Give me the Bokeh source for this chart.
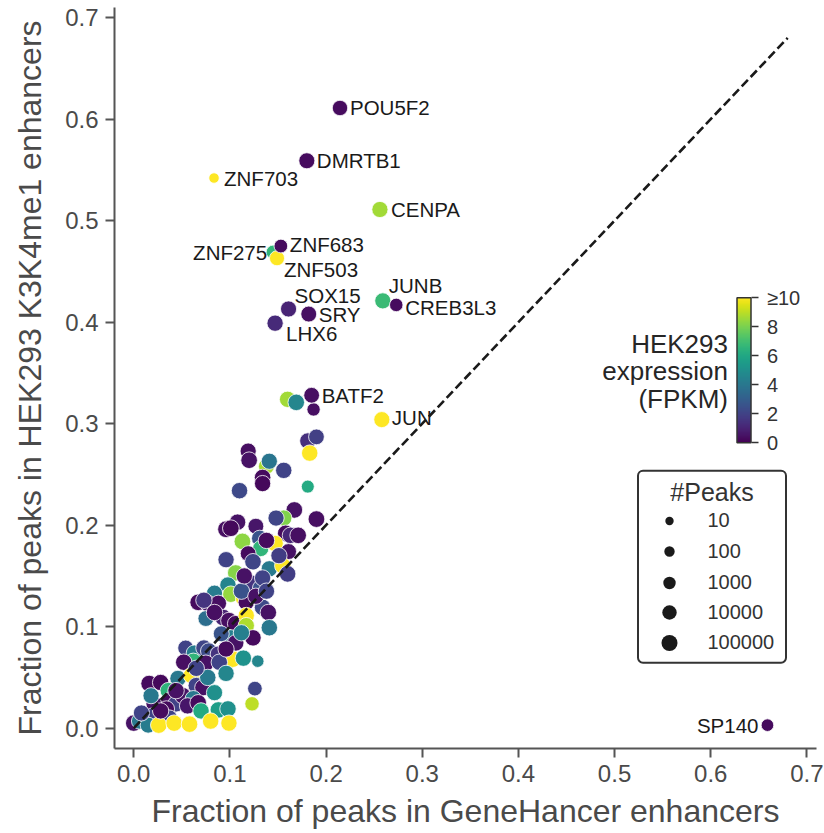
import numpy as np
from bokeh.plotting import figure
from bokeh.models import (LinearColorMapper, ColorBar, FixedTicker, Legend, LegendItem,
                          Label, BoxAnnotation, ColumnDataSource, Range1d, PrintfTickFormatter)
from bokeh.palettes import Viridis256
from bokeh.embed import file_html
from bokeh.resources import INLINE
from bokeh.core.properties import value

FONT = "Liberation Sans"

# ---------------- data ----------------
# unlabelled TFs: fraction in GeneHancer, fraction in K3K4me1, HEK293 FPKM, #peaks
tf_x = [0.160, 0.169, 0.187, 0.181, 0.190, 0.183, 0.119, 0.120, 0.138, 0.141,
        0.156, 0.134, 0.134, 0.110, 0.181, 0.167, 0.190, 0.156, 0.148, 0.096,
        0.108, 0.101, 0.127, 0.158, 0.163, 0.171, 0.113, 0.131, 0.132, 0.147,
        0.161, 0.119, 0.096, 0.124, 0.141, 0.155, 0.106, 0.160, 0.098, 0.084,
        0.122, 0.132, 0.134, 0.101, 0.114, 0.067, 0.077, 0.088, 0.117, 0.134,
        0.140, 0.075, 0.093, 0.099, 0.106, 0.117, 0.117, 0.141, 0.101, 0.091,
        0.106, 0.124, 0.054, 0.063, 0.073, 0.078, 0.088, 0.103, 0.114, 0.129,
        0.062, 0.052, 0.075, 0.089, 0.016, 0.028, 0.046, 0.036, 0.060, 0.065,
        0.072, 0.077, 0.096, 0.084, 0.021, 0.037, 0.044, 0.051, 0.062, 0.056,
        0.067, 0.034, 0.070, 0.088, 0.098, 0.099, 0.000, 0.006, 0.020, 0.037,
        0.015, 0.026, 0.042, 0.058, 0.126, 0.123,
        0.073, 0.112, 0.127, 0.138, 0.084, 0.112, 0.096, 0.065, 0.044, 0.028,
        0.008, 0.080, 0.115, 0.151, 0.138, 0.018]
tf_y = [0.324, 0.321, 0.314, 0.283, 0.287, 0.271, 0.273, 0.264, 0.258, 0.263,
        0.254, 0.247, 0.241, 0.234, 0.238, 0.215, 0.206, 0.207, 0.207, 0.196,
        0.203, 0.197, 0.199, 0.192, 0.190, 0.190, 0.184, 0.187, 0.177, 0.182,
        0.174, 0.172, 0.166, 0.164, 0.157, 0.160, 0.153, 0.152, 0.141, 0.133,
        0.143, 0.138, 0.148, 0.132, 0.128, 0.124, 0.123, 0.123, 0.124, 0.119,
        0.114, 0.108, 0.109, 0.106, 0.103, 0.111, 0.101, 0.099, 0.089, 0.093,
        0.084, 0.089, 0.079, 0.074, 0.079, 0.076, 0.073, 0.068, 0.069, 0.066,
        0.066, 0.065, 0.064, 0.065, 0.044, 0.045, 0.049, 0.037, 0.052, 0.042,
        0.040, 0.050, 0.054, 0.035, 0.024, 0.027, 0.024, 0.032, 0.029, 0.022,
        0.025, 0.019, 0.017, 0.018, 0.019, 0.005, 0.005, 0.007, 0.012, 0.010,
        0.003, 0.003, 0.005, 0.004, 0.039, 0.024,
        0.126, 0.135, 0.130, 0.135, 0.114, 0.094, 0.078, 0.059, 0.037, 0.017,
        0.015, 0.007, 0.150, 0.170, 0.185, 0.032]
tf_fpkm = [8.6, 4.6, 0.4, 1.4, 1.9, 14.2, 0.4, 0.5, 8.7, 3.9,
           2.0, 0.3, 0.2, 2.2, 6.1, 0.5, 0.4, 8.1, 2.1, 0.4,
           0.5, 0.2, 0.6, 0.3, 1.1, 0.4, 8.3, 2.6, 6.6, 11.5,
           0.5, 0.3, 2.0, 2.1, 4.1, 12.0, 8.2, 1.8, 4.5, 4.2,
           1.5, 2.5, 2.0, 8.4, 10.5, 0.3, 0.6, 0.4, 0.3, 2.2,
           0.5, 3.6, 1.0, 0.4, 0.2, 13.0, 8.8, 4.0, 4.3, 2.6,
           0.5, 0.3, 2.0, 4.2, 2.1, 2.3, 1.5, 11.0, 5.1, 4.6,
           6.6, 0.4, 0.5, 2.0, 0.3, 0.2, 4.0, 6.5, 12.5, 2.0,
           0.5, 4.1, 4.6, 5.0, 0.5, 0.3, 2.0, 0.5, 4.0, 0.6,
           0.3, 0.3, 6.1, 5.6, 5.0, 11.0, 0.5, 4.0, 2.0, 2.0,
           4.2, 12.0, 10.5, 11.5, 2.1, 9.0,
           1.5, 2.5, 0.5, 2.0, 0.4, 4.3, 0.3, 2.0, 0.5, 0.3,
           2.0, 11.0, 0.5, 1.8, 0.3, 4.0]
tf_peaks = [84000, 110000, 2500, 76000, 42000, 94000, 66000, 122000, 56000, 72000,
            88000, 104000, 78000, 94000, 1800, 116000, 128000, 82000, 70000, 144000,
            90000, 132000, 48000, 102000, 96000, 114000, 124000, 86000, 74000, 92000,
            52000, 44000, 78000, 106000, 82000, 98000, 88000, 114000, 92000, 70000,
            84000, 94000, 80000, 102000, 54000, 116000, 98000, 88000, 78000, 104000,
            94000, 46000, 122000, 110000, 96000, 84000, 90000, 100000, 88000, 52000,
            106000, 94000, 48000, 76000, 90000, 100000, 82000, 112000, 88000, 900,
            74000, 98000, 108000, 92000, 116000, 94000, 84000, 102000, 78000, 88000,
            106000, 96000, 82000, 72000, 58000, 104000, 92000, 110000, 98000, 86000,
            114000, 76000, 90000, 104000, 94000, 82000, 100000, 66000, 92000, 80000,
            56000, 102000, 94000, 110000, 12000, 9000,
            86000, 92000, 78000, 88000, 96000, 84000, 72000, 90000, 98000, 80000,
            70000, 94000, 82000, 76000, 88000, 68000]

# labelled TFs
lab_names = ["POU5F2", "DMRTB1", "ZNF703", "CENPA", "ZNF275", "ZNF503", "ZNF683",
             "JUNB", "CREB3L3", "SOX15", "SRY", "LHX6", "BATF2", "JUN", "SP140"]
lab_x = [0.2145, 0.180, 0.0835, 0.256, 0.145, 0.149, 0.153,
         0.259, 0.273, 0.161, 0.182, 0.147, 0.185, 0.258, 0.659]
lab_y = [0.611, 0.559, 0.542, 0.511, 0.469, 0.463, 0.475,
         0.421, 0.417, 0.413, 0.408, 0.399, 0.328, 0.304, 0.003]
lab_fpkm = [0.3, 0.3, 12.0, 8.6, 6.6, 11.0, 0.3,
            6.8, 0.3, 1.0, 0.4, 1.2, 0.4, 10.0, 0.3]
lab_peaks = [30000, 60000, 90, 70000, 6000, 20000, 4000,
             64000, 3000, 66000, 52000, 80000, 44000, 62000, 1100]

diag_end = 0.68
legend_peaks = [10, 100, 1000, 10000, 100000]
cbar_ticks = [0, 2, 4, 6, 8, 10]

# ---------------- styling (screen offsets for labels) ----------------
lab_dx = [10, 10, 10, 11, -6, 7, 9, 6, 9, 6, 10, 11, 10, 10, -9]
lab_dy = [0, 0, 0, 0, 0, 11, -2, -15, 3, -13, 0, 10, 0, -2, 0]
lab_align = ["left"] * 4 + ["right"] + ["left"] * 9 + ["right"]


def diam(peaks):
    return 6.5 + 2 * np.log10(np.asarray(peaks, dtype=float))


all_x = tf_x + lab_x
all_y = tf_y + lab_y
all_f = tf_fpkm + lab_fpkm
all_p = tf_peaks + lab_peaks
src = ColumnDataSource(dict(x=all_x, y=all_y, fpkm=all_f, size=diam(all_p)))

mapper = LinearColorMapper(palette=Viridis256, low=0, high=10)

p = figure(width=824, height=833, output_backend="svg", toolbar_location=None,
           x_range=Range1d(-0.02, 0.71), y_range=Range1d(-0.02, 0.71),
           min_border_left=114, min_border_right=8, min_border_top=7, min_border_bottom=85)
p.outline_line_color = None
p.grid.visible = False
p.background_fill_color = "white"
p.border_fill_color = "white"

p.scatter("x", "y", size="size", source=src,
          fill_color={"field": "fpkm", "transform": mapper},
          line_color="white", line_width=0.8)

p.line([0, diag_end], [0, diag_end], line_color="#1a1a1a", line_width=2.6,
       line_dash="9 4")

# point labels
for al in ("left", "right"):
    idx = [i for i, a in enumerate(lab_align) if a == al]
    s = ColumnDataSource(dict(x=[lab_x[i] for i in idx], y=[lab_y[i] for i in idx],
                              t=[lab_names[i] for i in idx],
                              dx=[lab_dx[i] for i in idx], dy=[lab_dy[i] for i in idx]))
    p.text("x", "y", text="t", source=s, x_offset="dx", y_offset="dy",
           text_align=al, text_baseline="middle", text_font=value(FONT),
           text_font_size="20.5px", text_color="#1a1a1a")

# axes
for ax in (p.xaxis[0], p.yaxis[0]):
    ax.ticker = FixedTicker(ticks=[0, 0.1, 0.2, 0.3, 0.4, 0.5, 0.6, 0.7])
    ax.formatter = PrintfTickFormatter(format="%.1f")
    ax.major_label_text_font = FONT
    ax.major_label_text_font_size = "24px"
    ax.major_label_text_color = "#4a4a4a"
    ax.axis_label_text_font = FONT
    ax.axis_label_text_font_size = "32px"
    ax.axis_label_text_font_style = "normal"
    ax.axis_label_text_color = "#4a4a4a"
    ax.axis_line_color = "#555555"
    ax.axis_line_width = 2
    ax.major_tick_line_color = "#555555"
    ax.major_tick_line_width = 2
    ax.major_tick_out = 9
    ax.major_tick_in = 0
    ax.minor_tick_line_color = None
    ax.major_label_standoff = 7
p.xaxis.axis_label_standoff = 8
p.yaxis.axis_label_standoff = 14
p.xaxis.axis_label = "Fraction of peaks in GeneHancer enhancers"
p.yaxis.axis_label = "Fraction of peaks in HEK293 K3K4me1 enhancers"

# colour bar
cbar = ColorBar(color_mapper=mapper, ticker=FixedTicker(ticks=cbar_ticks),
                major_label_overrides={10: "≥10"},
                width=14, height=145, padding=0, location=(622.5, 305.8),
                background_fill_alpha=0, border_line_color=None,
                bar_line_color="#333333", bar_line_width=1.5,
                major_tick_line_color="#333333", major_tick_line_width=1.5,
                major_tick_out=7, major_tick_in=0, minor_tick_line_color=None,
                label_standoff=9, major_label_text_font=FONT,
                major_label_text_font_size="20px", major_label_text_color="#333333")
p.add_layout(cbar, "center")

for txt, yy in zip(["HEK293", "expression", "(FPKM)"], [404.8, 377.8, 349.8]):
    p.add_layout(Label(x=613.5, y=yy, x_units="screen", y_units="screen", text=txt,
                       text_align="right", text_baseline="middle", text_font=FONT,
                       text_font_size="26px", text_color="#262626"))

# size legend
box = BoxAnnotation(left=523.5, right=671.5, bottom=85.8, top=277.8,
                    left_units="screen", right_units="screen",
                    bottom_units="screen", top_units="screen",
                    fill_color="white", fill_alpha=1, line_color="#333333",
                    line_alpha=1, line_width=2, border_radius=5, level="overlay")
p.add_layout(box)
p.add_layout(Label(x=597.5, y=256.8, x_units="screen", y_units="screen", text="#Peaks",
                   text_align="center", text_baseline="middle", text_font=FONT,
                   text_font_size="25px", text_color="#333333", level="overlay"))

row_centers = [521, 551, 582, 612, 642]
for pk, cy in zip(legend_peaks, row_centers):
    d = float(diam([pk])[0])
    gh = d / 0.4
    r = p.scatter(x=[float("nan")], y=[float("nan")], size=d,
                  fill_color="#1a1a1a", line_color=None)
    lg = Legend(items=[LegendItem(label=str(pk), renderers=[r])],
                location=(534.5, 747.8 - (cy + gh / 2)),
                glyph_width=40, glyph_height=int(round(gh)), label_height=int(round(gh)),
                label_standoff=19, padding=0, margin=0, spacing=0,
                background_fill_alpha=0, border_line_alpha=0,
                label_text_font=FONT, label_text_font_size="20px",
                label_text_color="#333333", level="overlay")
    p.add_layout(lg, "center")

open("out.html", "w").write(file_html(p, INLINE))
